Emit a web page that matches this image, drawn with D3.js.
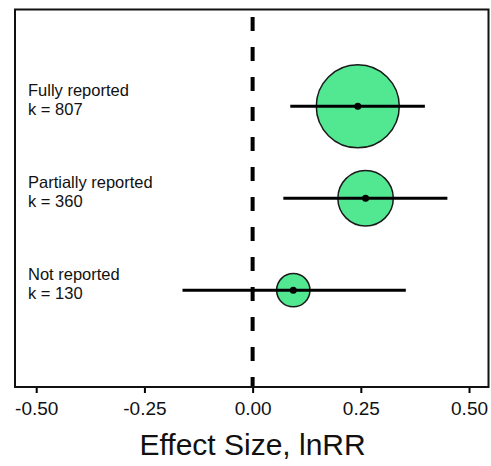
<!DOCTYPE html>
<html>
<head>
<meta charset="utf-8">
<script src="https://cdn.jsdelivr.net/npm/d3@7"></script>
<style>
    body { margin: 0; background: #fff; }
    svg { display: block; font-family: Arial, "Liberation Sans", sans-serif; }
</style>
</head>
<body>
<div id="chart"></div>
<script>
// Data
const categories = ["Fully reported", "Partially reported", "Not reported"];
const kValues = [807, 360, 130];
const estimates = [0.243, 0.261, 0.094];
const ciLow = [0.087, 0.071, -0.162];
const ciHigh = [0.398, 0.450, 0.354];
const tickValues = [-0.5, -0.25, 0, 0.25, 0.5];
const tickLabels = ["-0.50", "-0.25", "0.00", "0.25", "0.50"];

const rows = categories.map((c, i) => ({
    name: c, k: kValues[i], est: estimates[i], lo: ciLow[i], hi: ciHigh[i]
}));

const width = 491, height = 466;
const box = { left: 15, right: 488.5, top: 9.5, bottom: 387 };

const svg = d3.select("#chart").append("svg").attr("width", width).attr("height", height);

const x = d3.scaleLinear().domain([-0.549, 0.545]).range([box.left, box.right]);
const y = d3.scalePoint().domain(categories).range([box.top, box.bottom]).padding(1.054);
const r = d3.scaleSqrt().domain([0, 807]).range([0, 41.5]);

// zero line
svg.append("line")
    .attr("x1", x(0)).attr("x2", x(0))
    .attr("y1", 17).attr("y2", box.bottom)
    .attr("stroke", "#000").attr("stroke-width", 4)
    .attr("stroke-dasharray", "14,16");

// x axis
const axis = svg.append("g")
    .attr("transform", `translate(0,${box.bottom})`)
    .call(d3.axisBottom(x).tickValues(tickValues).tickSize(6).tickSizeOuter(0)
        .tickFormat((d, i) => tickLabels[i]));
axis.select(".domain").remove();
axis.selectAll(".tick line").attr("stroke", "#000").attr("stroke-width", 2);
axis.selectAll(".tick text")
    .attr("y", 28).attr("dy", null)
    .attr("fill", "#111")
    .style("font-size", "19px");

svg.append("text")
    .attr("x", x(0)).attr("y", 455)
    .attr("text-anchor", "middle")
    .attr("fill", "#111")
    .style("font-size", "30px")
    .text("Effect Size, lnRR");

// rows
const g = svg.selectAll(".row").data(rows).enter().append("g").attr("class", "row");

g.append("circle")
    .attr("cx", d => x(d.est)).attr("cy", d => y(d.name))
    .attr("r", d => r(d.k))
    .attr("fill", "#52e892").attr("stroke", "#1a1a1a").attr("stroke-width", 1.5);

g.append("line")
    .attr("x1", d => x(d.lo)).attr("x2", d => x(d.hi))
    .attr("y1", d => y(d.name)).attr("y2", d => y(d.name))
    .attr("stroke", "#000").attr("stroke-width", 3);

g.append("circle")
    .attr("cx", d => x(d.est)).attr("cy", d => y(d.name))
    .attr("r", 3.5).attr("fill", "#000");

g.append("text")
    .attr("x", 28).attr("y", d => y(d.name) - 10)
    .attr("fill", "#111").style("font-size", "16.5px")
    .text(d => d.name);

g.append("text")
    .attr("x", 28).attr("y", d => y(d.name) + 9)
    .attr("fill", "#111").style("font-size", "16.5px")
    .text(d => `k = ${d.k}`);

// frame
svg.append("rect")
    .attr("x", box.left).attr("y", box.top)
    .attr("width", box.right - box.left).attr("height", box.bottom - box.top)
    .attr("fill", "none").attr("stroke", "#111").attr("stroke-width", 2);
</script>
</body>
</html>
